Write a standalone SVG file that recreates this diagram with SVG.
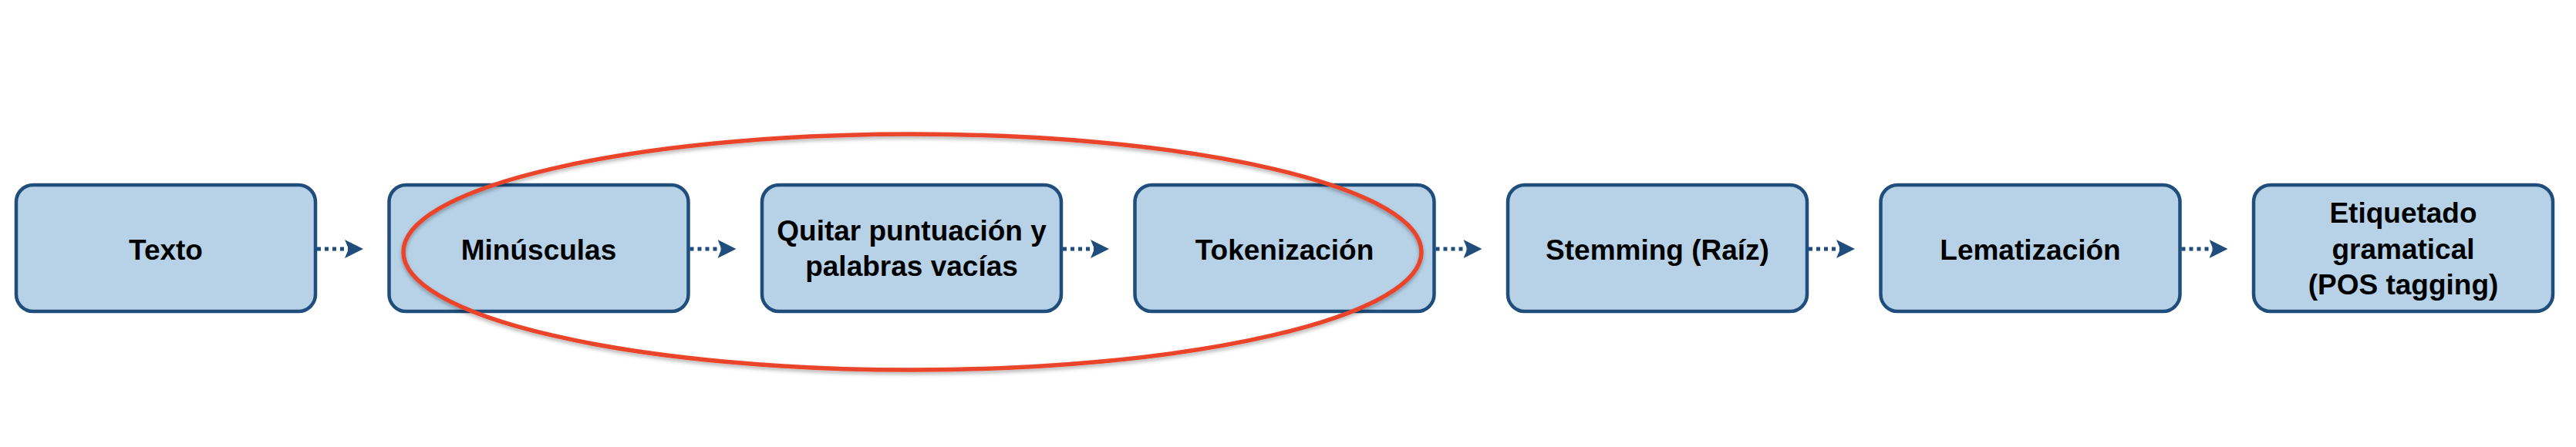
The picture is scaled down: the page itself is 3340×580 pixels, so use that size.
<svg xmlns="http://www.w3.org/2000/svg" width="3340" height="580" viewBox="0 0 3340 580">
<style>
.box{fill:#b7d2e7;stroke:#1f4e7c;stroke-width:4.5}
.lbl{font-family:"Liberation Sans",Arial,sans-serif;font-weight:bold;font-size:37px;fill:#000;text-anchor:middle}
.conn{stroke:#1f4e7c;stroke-width:5;stroke-dasharray:5 5;fill:none}
</style>
<defs>
<marker id="ah" markerUnits="userSpaceOnUse" markerWidth="26" markerHeight="26" refX="5" refY="12" orient="auto">
<path d="M0,0 L24,12 L0,24 L5,12 Z" fill="#1f4e7c"/>
</marker>
<filter id="sh" x="-5%" y="-10%" width="110%" height="125%">
<feDropShadow dx="0" dy="3" stdDeviation="2.5" flood-color="#000" flood-opacity="0.3"/>
</filter>
</defs>
<rect width="3340" height="580" fill="#fff"/>
<g id="n1"><rect class="box" x="21" y="240" width="388" height="164" rx="22"/><text class="lbl" x="215" y="337">Texto</text></g>
<g id="n2"><rect class="box" x="504.5" y="240" width="388" height="164" rx="22"/><text class="lbl" x="698.5" y="337">Minúsculas</text></g>
<g id="n3"><rect class="box" x="988" y="240" width="388" height="164" rx="22"/><text class="lbl" x="1182" y="312">Quitar puntuación y</text><text class="lbl" x="1182" y="358">palabras vacías</text></g>
<g id="n4"><rect class="box" x="1471.5" y="240" width="388" height="164" rx="22"/><text class="lbl" x="1665.5" y="337">Tokenización</text></g>
<g id="n5"><rect class="box" x="1955" y="240" width="388" height="164" rx="22"/><text class="lbl" x="2149" y="337">Stemming (Raíz)</text></g>
<g id="n6"><rect class="box" x="2438.5" y="240" width="388" height="164" rx="22"/><text class="lbl" x="2632.5" y="337">Lematización</text></g>
<g id="n7"><rect class="box" x="2922" y="240" width="388" height="164" rx="22"/><text class="lbl" x="3116" y="289">Etiquetado</text><text class="lbl" x="3116" y="336">gramatical</text><text class="lbl" x="3116" y="382">(POS tagging)</text></g>
<g id="connectors">
<path class="conn" d="M411,323 H452" marker-end="url(#ah)"/>
<path class="conn" d="M894.5,323 H935.5" marker-end="url(#ah)"/>
<path class="conn" d="M1378,323 H1419" marker-end="url(#ah)"/>
<path class="conn" d="M1861.5,323 H1902.5" marker-end="url(#ah)"/>
<path class="conn" d="M2345,323 H2386" marker-end="url(#ah)"/>
<path class="conn" d="M2828.5,323 H2869.5" marker-end="url(#ah)"/>
</g>
<g id="highlight">
<ellipse cx="1183" cy="327" rx="660" ry="153" fill="none" stroke="#ea4429" stroke-width="5.5" filter="url(#sh)"/>
</g>
</svg>
